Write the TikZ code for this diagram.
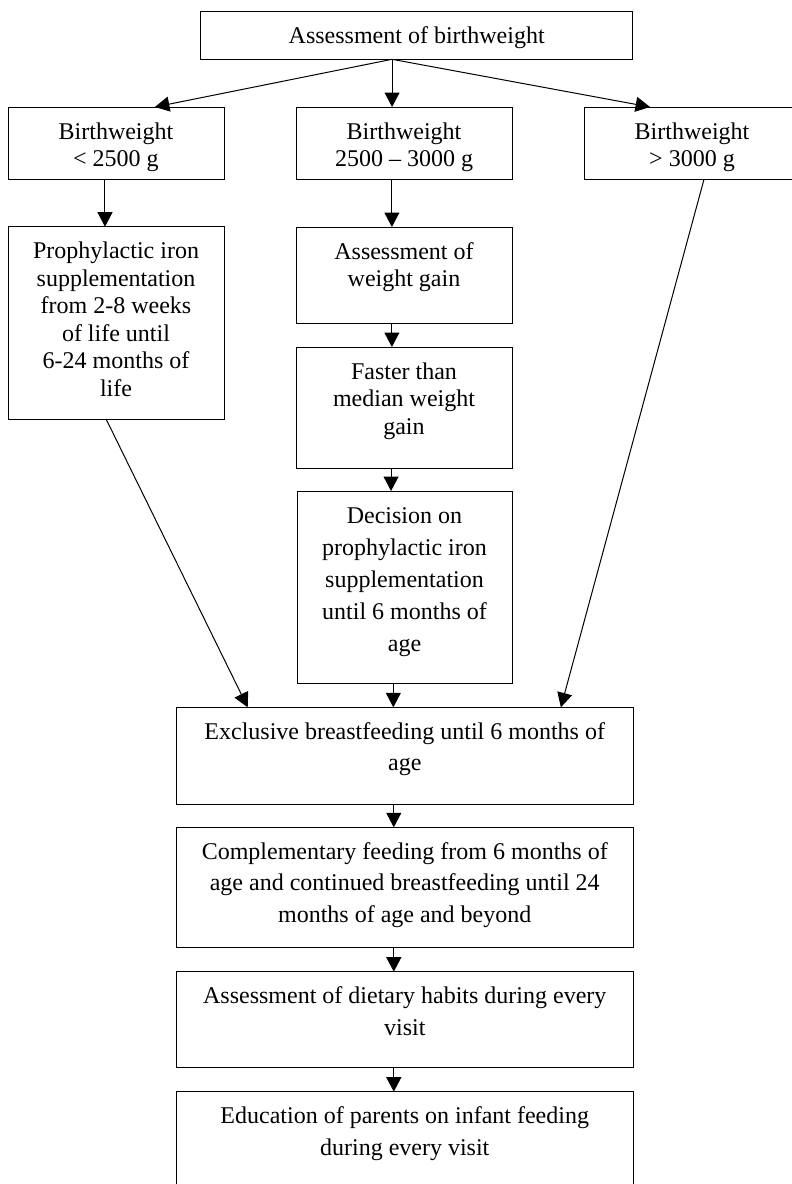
\documentclass[tikz,border=0pt]{standalone}
\usepackage{fontspec}
\setmainfont{Liberation Serif}
\usetikzlibrary{arrows.meta,calc}
\newcommand\bxt[4]{\parbox[t][#2][t]{#1}{\centering\fontsize{24pt}{#3}\selectfont\rule{0pt}{32pt}#4}}
\begin{document}
\begin{tikzpicture}[x=1pt,y=-1pt,
  box/.style={draw, line width=1pt, inner sep=0pt, outer sep=0pt, anchor=north west},
  arr/.style={-{Triangle[length=14.5pt,width=15pt]}, line width=1pt}]
\useasboundingbox (0,0) rectangle (792,1184);
\node[box] (top) at (200.7,11.7) {\bxt{432pt}{47.6pt}{27.5pt}{Assessment of birthweight}};
\node[box] (b1) at (8,107) {\bxt{216pt}{72pt}{27pt}{Birthweight\\< 2500 g}};
\node[box] (b2) at (296,107) {\bxt{216pt}{72pt}{27pt}{Birthweight\\2500 -- 3000 g}};
\node[box] (b3) at (584,107) {\bxt{216pt}{72pt}{27pt}{Birthweight\\> 3000 g}};
\node[box] (p1) at (8,226.7) {\bxt{216pt}{192.3pt}{27.5pt}{Prophylactic iron\\supplementation\\from 2-8 weeks\\of life until\\6-24 months of\\life}};
\node[box] (a2) at (296,227) {\bxt{216pt}{96pt}{27.5pt}{Assessment of\\weight gain}};
\node[box] (f2) at (296,347) {\bxt{216pt}{121pt}{27.5pt}{Faster than\\median weight\\gain}};
\node[box] (d2) at (297,491) {\bxt{215pt}{192.3pt}{32pt}{Decision on\\prophylactic iron\\supplementation\\until 6 months of\\age}};
\node[box] (e) at (176.5,707.3) {\bxt{456.5pt}{96.7pt}{31.5pt}{Exclusive breastfeeding until 6 months of\\age}};
\node[box] (c) at (176.5,827.3) {\bxt{456.5pt}{120pt}{31.5pt}{Complementary feeding from 6 months of\\age and continued breastfeeding until 24\\months of age and beyond}};
\node[box] (s) at (176.5,971.7) {\bxt{456.5pt}{95.3pt}{31.5pt}{Assessment of dietary habits during every\\visit}};
\node[box] (ed) at (176.5,1091.7) {\bxt{456.5pt}{96pt}{31.5pt}{Education of parents on infant feeding\\during every visit}};
% connectors
\coordinate (t0) at ($(top.south west)!0.443!(top.south east)$);
\draw[arr] (t0) -- ($(b1.north west)!0.68!(b1.north east)$);
\draw[arr] (t0) -- (t0 |- b2.north);
\draw[arr] (t0) -- ($(b3.north west)!0.306!(b3.north east)$);
\draw[arr] ($(b1.south west)!0.449!(b1.south east)$) coordinate (q1) -- (q1 |- p1.north);
\draw[arr] ($(b2.south west)!0.444!(b2.south east)$) coordinate (q2) -- (q2 |- a2.north);
\draw[arr] ($(a2.south west)!0.444!(a2.south east)$) coordinate (q3) -- (q3 |- f2.north);
\draw[arr] ($(f2.south west)!0.44!(f2.south east)$) coordinate (q4) -- (q4 |- d2.north);
\draw[arr] ($(d2.south west)!0.448!(d2.south east)$) coordinate (q5) -- (q5 |- e.north);
\draw[arr] ($(e.south west)!0.476!(e.south east)$) coordinate (q6) -- (q6 |- c.north);
\draw[arr] ($(c.south west)!0.476!(c.south east)$) coordinate (q7) -- (q7 |- s.north);
\draw[arr] ($(s.south west)!0.476!(s.south east)$) coordinate (q8) -- (q8 |- ed.north);
\draw[arr] ($(p1.south west)!0.454!(p1.south east)$) -- ($(e.north west)!0.156!(e.north east)$);
\draw[arr] ($(b3.south west)!0.556!(b3.south east)$) -- ($(e.north west)!0.842!(e.north east)$);
\end{tikzpicture}
\end{document}
